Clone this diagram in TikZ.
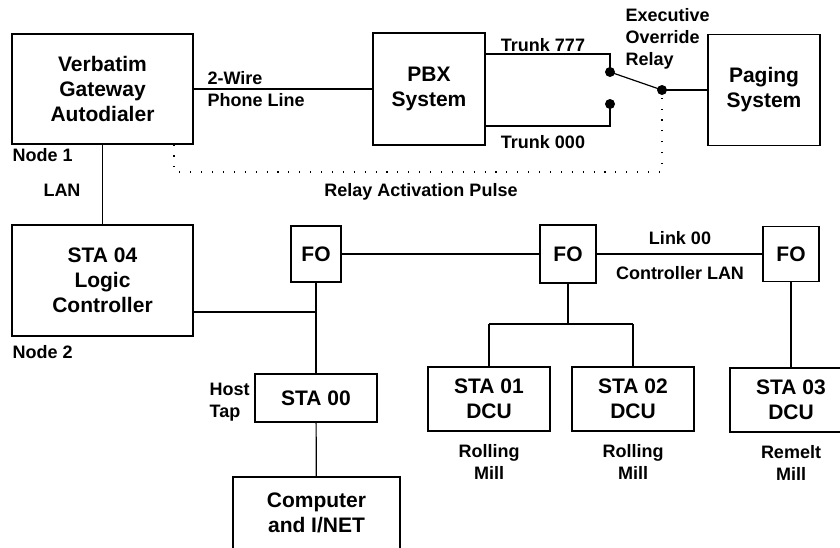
\documentclass[tikz,border=0pt]{standalone}
\usepackage{fontspec}
\setmainfont{Liberation Sans}
\usepackage{tikz}
\tikzstyle{unitBox}=[shape = rectangle, draw, line width = 1.2pt, inner sep = 0pt, align = center, font = \fontsize{21}{25}\selectfont\bfseries]
\tikzstyle{labelText}=[inner sep = 0pt, font = \fontsize{18}{22}\selectfont\bfseries]

\begin{document}
\begin{tikzpicture}[x = 1pt, y = -1pt, line width = 1.2pt]
\tikzstyle{contactDot}=[shape = circle, minimum size = 10pt, inner sep = 0pt, fill]
\tikzstyle{pulseLine}=[line width = 1.1pt, dash pattern = on 1.1pt off 9.8pt]
\useasboundingbox (0,0) rectangle (840,548);
\clip (0,0) rectangle (840,548);
% top row
\node[unitBox, minimum width = 181pt, minimum height = 110pt] (gate) at (102.5,89) {Verbatim\\Gateway\\Autodialer};
\node[unitBox, minimum width = 112pt, minimum height = 112pt] (pbx) at (429,89) {PBX\\System};
\node[unitBox, minimum width = 112pt, minimum height = 111pt] (paging) at (764,90) {Paging\\System};
% relay contacts
\coordinate (t7) at (610,54);
\coordinate (t0) at (610,126);
\node[contactDot] (c7) at (610,72) {};
\node[contactDot] (c0) at (610,104) {};
\node[contactDot] (pole) at (662,90) {};
% lower part
\node[unitBox, minimum width = 181pt, minimum height = 111pt] (sta4) at (102.5,280.5) {STA 04\\Logic\\Controller};
\node[unitBox, minimum width = 50pt, minimum height = 56pt] (fo1) at (316,254) {FO};
\node[unitBox, minimum width = 56pt, minimum height = 58pt] (fo2) at (568,254) {FO};
\node[unitBox, minimum width = 56pt, minimum height = 55pt] (fo3) at (791,254) {FO};
\node[unitBox, minimum width = 122pt, minimum height = 48pt] (sta0) at (316,398) {STA 00};
\node[unitBox, minimum width = 167pt, minimum height = 110pt, text depth = 38pt] (comp) at (316.5,532) {Computer\\and I/NET};
\node[unitBox, minimum width = 122pt, minimum height = 64pt] (sta1) at (489,399) {STA 01\\DCU};
\node[unitBox, minimum width = 122pt, minimum height = 64pt] (sta2) at (633,399) {STA 02\\DCU};
\node[unitBox, minimum width = 122pt, minimum height = 64pt] (sta3) at (791,400) {STA 03\\DCU};
\coordinate (tap) at (316,312);
\coordinate (bus) at (568,324);
\coordinate (pulse) at (174,172);
% labels
\node[labelText, anchor = west] (node1) at (12,155) {Node 1};
\node[labelText] (lan) at (62,190) {LAN};
\node[labelText, anchor = west] (node2) at (12,352) {Node 2};
\node[labelText, anchor = west, align = left] (wire) at (207,89) {2-Wire\\Phone Line};
\node[labelText] (trunk7) at (543,45) {Trunk 777};
\node[labelText] (trunk0) at (543,142) {Trunk 000};
\node[labelText, anchor = west, align = left] (relay) at (625,39) {Executive\\Override\\Relay};
\node[labelText] (pulsetext) at (421,192) {Relay Activation Pulse};
\node[labelText] (link) at (680,238) {Link 00};
\node[labelText] (clan) at (680,273) {Controller LAN};
\node[labelText, anchor = west, align = left] (host) at (209,402) {Host\\Tap};
\node[labelText, align = center] (mill1) at (489,462) {Rolling\\Mill};
\node[labelText, align = center] (mill2) at (633,462) {Rolling\\Mill};
\node[labelText, align = center] (mill3) at (791,463) {Remelt\\Mill};
% connections
\draw (gate) -- (pbx);
\draw (gate) -- (sta4);
\draw (pbx.east |- t7) -- (t7) -- (c7.center);
\draw (pbx.east |- t0) -- (t0) -- (c0.center);
\draw (c7.center) -- (pole.center);
\draw (pole.center) -- (paging);
\draw[pulseLine] (gate.south -| pulse) -- (pulse) -- (pulse -| pole) -- (pole);
\draw (sta4.east |- tap) -- (tap);
\draw (fo1) -- (sta0);
\draw (sta0) -- (comp);
\draw (fo1) -- (fo2);
\draw (fo2) -- (fo3);
\draw (fo2) -- (bus);
\draw (sta1 |- bus) -- (sta2 |- bus);
\draw (sta1 |- bus) -- (sta1);
\draw (sta2 |- bus) -- (sta2);
\draw (fo3) -- (sta3);
\end{tikzpicture}
\end{document}
